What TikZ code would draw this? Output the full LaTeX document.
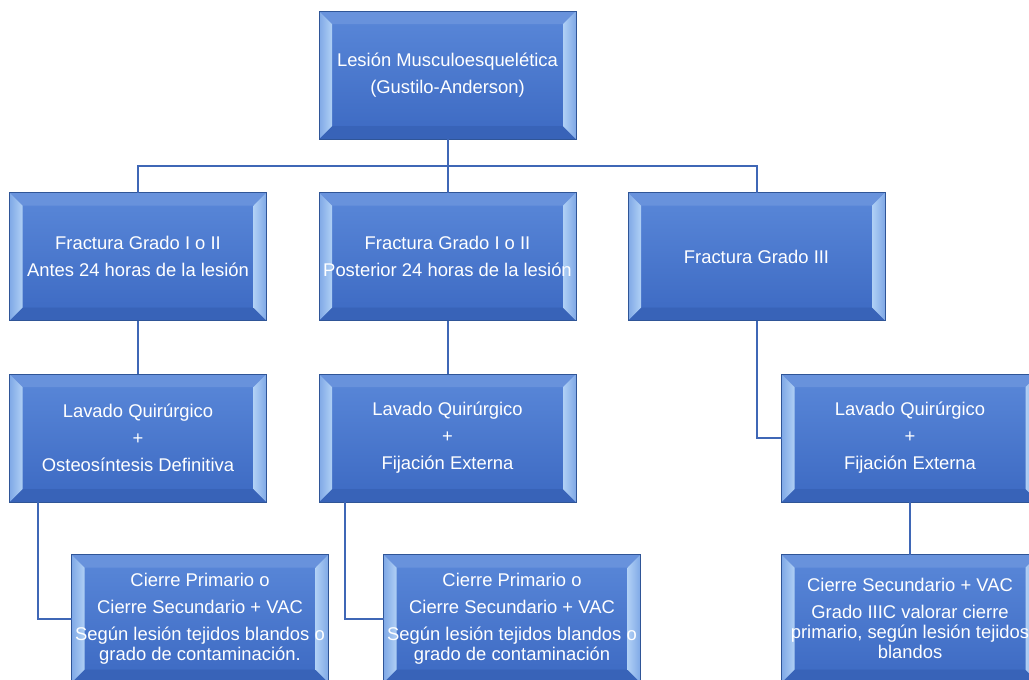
\documentclass[tikz,border=0pt]{standalone}
\usepackage{fontspec}
\setmainfont{Liberation Sans}
\usetikzlibrary{calc,backgrounds}

\definecolor{azulclaro}{HTML}{5A88D9}
\definecolor{azuloscuro}{HTML}{3C69C2}
\definecolor{borde}{HTML}{2F5597}
\definecolor{biselluz}{HTML}{B0D0F5}
\definecolor{biselmedio}{HTML}{7FA8E6}
\definecolor{biselarriba}{HTML}{6892DC}
\definecolor{biselabajo}{HTML}{3863B8}
\definecolor{linea}{HTML}{3F67B6}

\tikzset{every picture/.style={line width=0.75pt}}
\tikzset{
  caja/.style={minimum width=192pt, minimum height=95.25pt, inner sep=0pt, text=white, align=center, font=\fontsize{13.8}{20.25}\selectfont},
  cajabaja/.style={caja, font=\fontsize{13.8}{15}\selectfont},
  conector/.style={draw=linea, line width=1.5pt},
}

\begin{document}
\begin{tikzpicture}[x=0.75pt,y=0.75pt,yscale=-1,xscale=1]
\useasboundingbox (0,0) rectangle (1029,679);

% Nivel 1
\node[caja] (raiz) at (447.5,75) {Lesión Musculoesquelética\\(Gustilo-Anderson)};
% Nivel 2
\node[caja] (f1) at (138,256.5) {Fractura Grado I o II\\Antes 24 horas de la lesión};
\node[caja] (f2) at (447.5,256.5) {Fractura Grado I o II\\Posterior 24 horas de la lesión};
\node[caja] (f3) at (756.5,256.5) {Fractura Grado III};
% Nivel 3
\node[caja] (l1) at (138,438) {Lavado Quirúrgico\\+\\Osteosíntesis Definitiva};
\node[caja] (l2) at (447.5,438) {Lavado Quirúrgico\\+\\Fijación Externa};
\node[caja] (l3) at (910,438) {Lavado Quirúrgico\\+\\Fijación Externa};
% Nivel 4
\node[cajabaja] (c1) at (200,618.5) {Cierre Primario o\\[5.25pt]Cierre Secundario + VAC\\[5.25pt]Según lesión tejidos blandos o\\grado de contaminación.};
\node[cajabaja] (c2) at (512,618.5) {Cierre Primario o\\[5.25pt]Cierre Secundario + VAC\\[5.25pt]Según lesión tejidos blandos o\\grado de contaminación};
\node[cajabaja] (c3) at (910,618.5) {Cierre Secundario + VAC\\[5.25pt]Grado IIIC valorar cierre\\primario, según lesión tejidos\\blandos};

% Cajas biseladas
\begin{scope}[on background layer]
\foreach \n in {raiz,f1,f2,f3,l1,l2,l3,c1,c2,c3}{
  \shade[top color=azulclaro, bottom color=azuloscuro] (\n.north west) rectangle (\n.south east);
  \fill[biselarriba] (\n.north west) -- (\n.north east) -- ($(\n.north east)+(-13,13)$) -- ($(\n.north west)+(13,13)$) -- cycle;
  \fill[biselabajo] (\n.south west) -- (\n.south east) -- ($(\n.south east)+(-13,-13)$) -- ($(\n.south west)+(13,-13)$) -- cycle;
  \shade[left color=biselmedio, right color=biselluz] (\n.north west) -- ($(\n.north west)+(13,13)$) -- ($(\n.south west)+(13,-13)$) -- (\n.south west) -- cycle;
  \shade[left color=biselluz, right color=biselmedio] (\n.north east) -- ($(\n.north east)+(-13,13)$) -- ($(\n.south east)+(-13,-13)$) -- (\n.south east) -- cycle;
  \draw[borde] (\n.north west) rectangle (\n.south east);
}
\end{scope}

% Conectores
\draw[conector] (raiz.south) -- ++(0,27) -| (f1.north);
\draw[conector] (raiz.south) -- ++(0,27) -| (f3.north);
\draw[conector] (raiz.south) -- (f2.north);
\draw[conector] (f1.south) -- (l1.north);
\draw[conector] (f2.south) -- (l2.north);
\draw[conector] (f3.south) |- (l3.west);
\draw[conector] ($(l1.south west)+(28,0)$) |- (c1.west);
\draw[conector] ($(l2.south west)+(26,0)$) |- (c2.west);
\draw[conector] (l3.south) -- (c3.north);

\end{tikzpicture}
\end{document}
